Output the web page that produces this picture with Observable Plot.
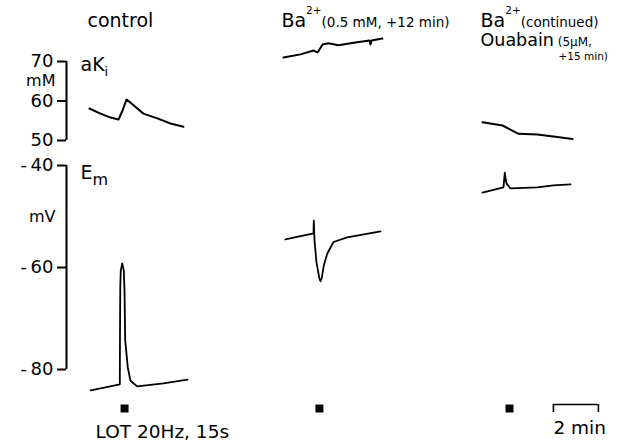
<!DOCTYPE html>
<html><head><meta charset="utf-8">
<script src="https://cdn.jsdelivr.net/npm/d3@7"></script>
<script src="https://cdn.jsdelivr.net/npm/@observablehq/plot@0.6"></script>
<style>
html,body{margin:0;padding:0;background:#fff;}
#chart{width:634px;height:441px;overflow:hidden;background:#fff;}
#chart svg{display:block;}
</style></head><body><div id="chart"></div>
<script>
// ---------- data (time in minutes) ----------
// aK_i traces (mM)
const ctrlAkT = [1.02, 1.51, 1.96, 2.31, 2.49, 2.67, 2.98, 3.42, 4.04, 4.62, 5.2];
const ctrlAk  = [58.1, 56.8, 55.8, 55.3, 57.6, 60.4, 58.9, 56.8, 55.6, 54.3, 53.5];
const baAkT   = [9.64, 10.4, 10.98, 11.11, 11.16, 11.38, 11.64, 12.09, 12.84, 13.47, 13.51, 13.56, 14.04];
const baAk    = [71.0, 71.8, 72.8, 72.4, 72.3, 74.3, 74.6, 74.1, 74.8, 75.3, 74.3, 75.3, 75.8];
const ouaAkT  = [18.49, 19.38, 20.09, 20.93, 21.64, 22.49];
const ouaAk   = [54.6, 53.8, 51.7, 51.5, 51.0, 50.4];
// E_m traces (mV)
const ctrlEmT = [1.07, 1.73, 2.37, 2.378, 2.391, 2.413, 2.476, 2.547, 2.578, 2.609, 2.724, 2.844, 3.142, 4.31, 5.38];
const ctrlEm  = [-84.1, -83.5, -82.9, -72.4, -63.5, -60.6, -59.2, -60.6, -64.5, -74.3, -79.6, -82.2, -83.3, -82.7, -82.0];
const baEmT   = [9.73, 10.978, 10.991, 11.022, 11.111, 11.231, 11.289, 11.347, 11.436, 11.587, 11.867, 12.476, 13.956];
const baEm    = [-54.5, -53.3, -50.8, -54.7, -59.0, -62.0, -62.7, -62.0, -59.6, -57.3, -55.0, -54.1, -52.9];
const ouaEmT  = [18.49, 19.42, 19.48, 19.511, 19.556, 19.733, 20.93, 21.64, 22.4];
const ouaEm   = [-45.3, -44.3, -41.4, -42.5, -43.5, -44.5, -44.3, -43.9, -43.7];
// stimulation (LOT 20 Hz, 15 s) times, scale bar
const stimTimes = [2.58, 11.24, 19.69];
const scaleBar = {start: 21.64, minutes: 2, label: "2 min"};
const stimLabel = "LOT 20Hz, 15s";
// axes
const aKiTicks = [50, 60, 70];
const emTicks = [-80, -60, -40];
const xDomain = [0, 24];
// titles
const titleMain = ["control", "Ba", "Ba"];
const titleSup  = ["", "2+", "2+"];
const titleNote = ["", "(0.5 mM, +12 min)", "(continued)"];
const title2Main = "Ouabain", title2Note = " (5µM,", title3 = "+15 min)";

// ---------- build ----------
const rows = (panel, T, V) => T.map((t, i) => ({panel, t, v: V[i]}));
const akRows = [...rows("control", ctrlAkT, ctrlAk), ...rows("Ba", baAkT, baAk), ...rows("Oua", ouaAkT, ouaAk)];
const emRows = [...rows("control", ctrlEmT, ctrlEm), ...rows("Ba", baEmT, baEm), ...rows("Oua", ouaEmT, ouaEm)];
const panelStarts = [ctrlAkT[0], baAkT[0], ouaAkT[0]];

const FONT = "DejaVu Sans";
const common = {
  width: 634, marginLeft: 66, marginRight: 28,
  x: {domain: xDomain, axis: null},
  style: {fontFamily: FONT, color: "black", background: "white", overflow: "visible"}
};

const topPlot = Plot.plot({
  ...common,
  height: 150, marginTop: 61, marginBottom: 10,
  y: {domain: [aKiTicks[0], aKiTicks[aKiTicks.length - 1]]},
  marks: [
    Plot.ruleX([xDomain[0]], {strokeWidth: 2}),
    Plot.axisY({ticks: aKiTicks, tickSize: 9, tickPadding: 4, fontSize: 18, strokeWidth: 2, label: null, tickFormat: d => String(d)}),
    Plot.text([{s: "mM", y: (aKiTicks[1] + aKiTicks[2]) / 2}], {text: "s", y: "y", frameAnchor: "left", textAnchor: "end", dx: -11, fontSize: 16}),
    Plot.text(["aKi"], {frameAnchor: "top-left", lineAnchor: "top", textAnchor: "start", dx: 14, dy: -4, fontSize: 19}),
    Plot.line(akRows, {x: "t", y: "v", z: "panel", stroke: "black", strokeWidth: 2, strokeLinejoin: "round"}),
    Plot.text(titleMain, {x: (d, i) => panelStarts[i], text: (d, i) => titleMain[i] + titleSup[i] + titleNote[i],
      frameAnchor: "top", lineAnchor: "bottom", textAnchor: "start", dx: -2, dy: -35, fontSize: 19}),
    Plot.text([title2Main + title2Note], {x: [panelStarts[2]], frameAnchor: "top", lineAnchor: "bottom", textAnchor: "start", dx: -2, dy: -16, fontSize: 17.5}),
    Plot.text([title3], {x: [panelStarts[2]], frameAnchor: "top", lineAnchor: "bottom", textAnchor: "start", dx: 76, dy: -2, fontSize: 10.5})
  ]
});

const bottomPlot = Plot.plot({
  ...common,
  height: 291, marginTop: 15, marginBottom: 72,
  y: {domain: [emTicks[0], emTicks[emTicks.length - 1]]},
  marks: [
    Plot.ruleX([xDomain[0]], {strokeWidth: 2}),
    Plot.axisY({ticks: emTicks, tickSize: 9, tickPadding: 4, fontSize: 18, strokeWidth: 2, label: null,
      tickFormat: d => d < 0 ? "-\u2009" + Math.abs(d) : String(d)}),
    Plot.text([{s: "mV", y: (emTicks[1] + emTicks[2]) / 2}], {text: "s", y: "y", frameAnchor: "left", textAnchor: "end", dx: -11, fontSize: 16}),
    Plot.text(["Em"], {frameAnchor: "top-left", lineAnchor: "top", textAnchor: "start", dx: 14, dy: 0, fontSize: 19}),
    Plot.line(emRows, {x: "t", y: "v", z: "panel", stroke: "black", strokeWidth: 1.8, strokeLinejoin: "round"}),
    Plot.dot(stimTimes, {x: d => d, frameAnchor: "bottom", dy: 39, symbol: "square", r: 4.5, fill: "black", stroke: "none"}),
    Plot.ruleY([scaleBar], {x1: d => d.start, x2: d => d.start + d.minutes, y: null, dy: 137, strokeWidth: 1.6}),
    Plot.ruleX([scaleBar.start, scaleBar.start + scaleBar.minutes], {insetTop: 239, insetBottom: -43, strokeWidth: 1.6}),
    Plot.text([scaleBar], {x: d => d.start, text: d => d.label, frameAnchor: "bottom", lineAnchor: "bottom", textAnchor: "start", dy: 64, fontSize: 18.5}),
    Plot.text([stimLabel], {x: [stimTimes[0]], frameAnchor: "bottom", lineAnchor: "bottom", textAnchor: "start", dx: -29, dy: 68, fontSize: 18.5})
  ]
});

// rich text (super/subscripts, smaller notes): split matching texts into tspans
function rich(svg, full, parts) {
  svg.querySelectorAll("text").forEach(el => {
    if (el.textContent !== full) return;
    el.textContent = "";
    for (const [s, size, dy] of parts) {
      const ts = document.createElementNS("http://www.w3.org/2000/svg", "tspan");
      ts.textContent = s;
      if (size) ts.setAttribute("font-size", size);
      if (dy) ts.setAttribute("dy", dy);
      el.appendChild(ts);
    }
  });
}
rich(topPlot, "aKi", [["aK", 19, 0], ["i", 13, 5]]);
rich(bottomPlot, "Em", [["E", 19, 0], ["m", 16, 6]]);
titleMain.forEach((m, i) => {
  if (titleSup[i]) rich(topPlot, m + titleSup[i] + titleNote[i],
    [[m, 19, 0], [titleSup[i], 10.5, -13], [titleNote[i], 13.5, 13]]);
});
rich(topPlot, title2Main + title2Note, [[title2Main, 17.5, 0], [title2Note, 12, 0]]);

document.getElementById("chart").append(topPlot, bottomPlot);
</script></body></html>
